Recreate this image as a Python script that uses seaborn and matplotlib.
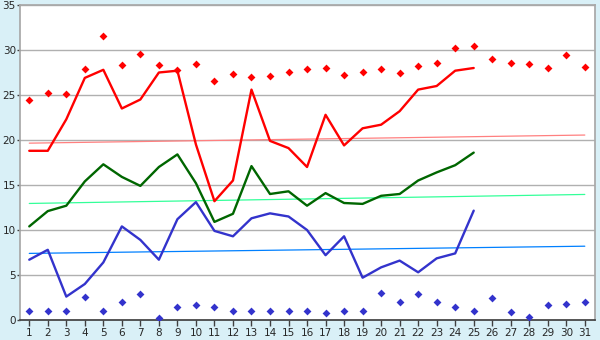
import matplotlib
matplotlib.use("Agg")
import matplotlib.pyplot as plt
import seaborn as sns
import pandas as pd

# daily values
days = list(range(1, 32))
obs_days = list(range(1, 26))

max_temp = [18.8, 18.8, 22.3, 26.9, 27.8, 23.5, 24.5, 27.5, 27.7, 19.5,
            13.2, 15.5, 25.6, 19.9, 19.1, 17.0, 22.8, 19.4, 21.3, 21.7,
            23.2, 25.6, 26.0, 27.7, 28.0]
mean_temp = [10.4, 12.1, 12.7, 15.4, 17.3, 15.9, 14.9, 17.0, 18.4, 15.2,
             10.9, 11.8, 17.1, 14.0, 14.3, 12.7, 14.1, 13.0, 12.9, 13.8,
             14.0, 15.5, 16.4, 17.2, 18.6]
min_temp = [6.7, 7.8, 2.6, 4.0, 6.4, 10.4, 8.9, 6.7, 11.2, 13.1,
            9.9, 9.3, 11.3, 11.85, 11.5, 10.0, 7.2, 9.3, 4.7, 5.85,
            6.6, 5.3, 6.85, 7.4, 12.15]

record_high = [24.4, 25.2, 25.1, 27.85, 31.6, 28.3, 29.6, 28.3, 27.8, 28.4,
               26.6, 27.3, 27.0, 27.1, 27.6, 27.85, 27.95, 27.2, 27.6, 27.85,
               27.4, 28.2, 28.6, 30.2, 30.4, 29.0, 28.6, 28.4, 27.95, 29.5,
               28.1]
record_low = [1.0, 1.0, 1.0, 2.6, 1.0, 1.95, 2.85, 0.2, 1.45, 1.65,
              1.5, 1.0, 1.0, 1.0, 1.0, 1.0, 0.75, 1.0, 1.0, 2.95,
              1.95, 2.85, 1.95, 1.45, 1.0, 2.5, 0.85, 0.35, 1.65, 1.75,
              1.95]

# normal (trend) lines, start and end of month
trend_days = [1, 31]
normal_max = [19.65, 20.55]
normal_mean = [12.95, 13.95]
normal_min = [7.4, 8.2]

y_ticks = [0, 5, 10, 15, 20, 25, 30, 35]

obs = pd.DataFrame({"day": obs_days, "max": max_temp,
                    "mean": mean_temp, "min": min_temp})
rec = pd.DataFrame({"day": days, "high": record_high, "low": record_low})
trend = pd.DataFrame({"day": trend_days, "max": normal_max,
                      "mean": normal_mean, "min": normal_min})

sns.set_theme(style="white")
plt.rcParams['font.family'] = ['DejaVu Sans']

bg = "#d9f0f7"
fig = plt.figure(figsize=(6, 3.4), dpi=100, facecolor=bg)
ax = fig.add_axes([20 / 600, 20 / 340, 575 / 600, 315 / 340])
ax.set_facecolor("white")

for y in y_ticks[1:]:
    ax.axhline(y, color="#b0b0b0", lw=1.0, zorder=0)

sns.lineplot(data=trend, x="day", y="max", color="#ff8080", lw=0.9, ax=ax)
sns.lineplot(data=trend, x="day", y="mean", color="#33ff99", lw=0.9, ax=ax)
sns.lineplot(data=trend, x="day", y="min", color="#0080ff", lw=0.9, ax=ax)

sns.lineplot(data=obs, x="day", y="max", color="#ff0000", lw=1.7, ax=ax)
sns.lineplot(data=obs, x="day", y="mean", color="#006600", lw=1.7, ax=ax)
sns.lineplot(data=obs, x="day", y="min", color="#3333cc", lw=1.7, ax=ax)

sns.scatterplot(data=rec, x="day", y="high", color="#ff0000", marker="D",
                s=16, linewidth=0, ax=ax, zorder=5)
sns.scatterplot(data=rec, x="day", y="low", color="#3333cc", marker="D",
                s=16, linewidth=0, ax=ax, zorder=5)

ax.set_xlim(0.5, 31.55)
ax.set_ylim(0, 35)
ax.set_xticks(days)
ax.set_yticks(y_ticks)
ax.set_xlabel("")
ax.set_ylabel("")
ax.tick_params(axis="x", direction="out", length=4, width=1,
               color="#404040", labelsize=7.5, pad=2, bottom=True)
ax.tick_params(axis="y", direction="out", length=2, width=1,
               color="#404040", labelsize=7.5, pad=1, left=True)

ax.spines["bottom"].set_color("#404040")
for side in ["left", "top", "right"]:
    ax.spines[side].set_color("#a8a8a8")

fig.savefig("out.png", dpi=100, facecolor=bg)
